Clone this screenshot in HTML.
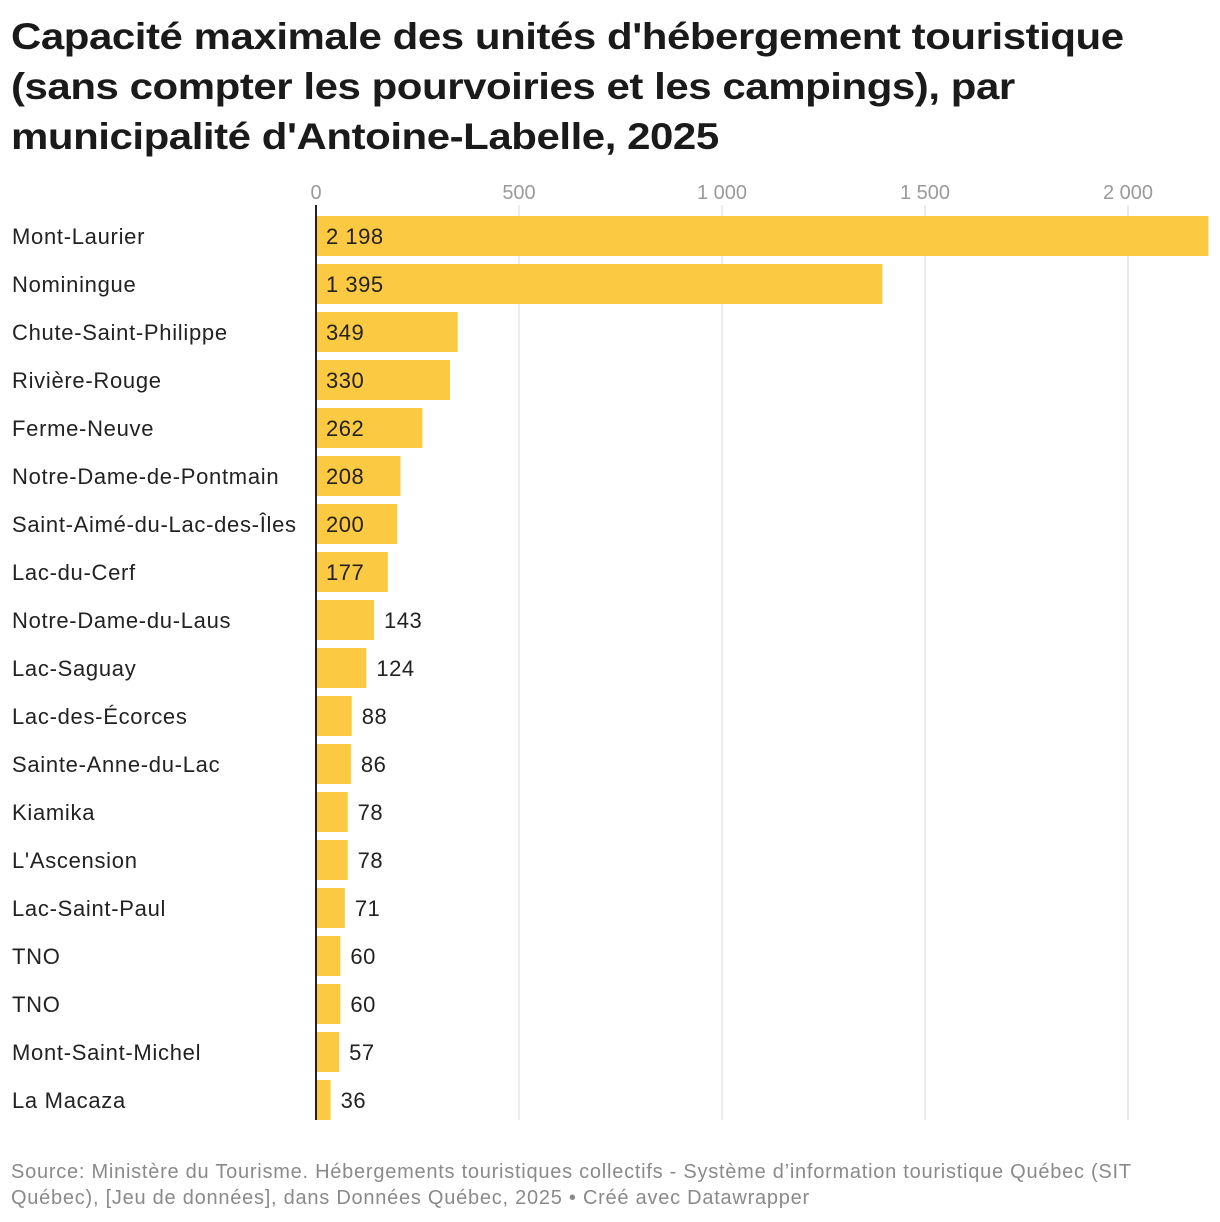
<!DOCTYPE html>
<html><head><meta charset="utf-8"><style>
body{margin:0;background:#fff;width:1220px;height:1222px;overflow:hidden;font-family:"Liberation Sans",sans-serif}
h1{position:absolute;left:11px;top:12px;margin:0;font-size:37px;line-height:50px;font-weight:bold;color:#1a1a1a;letter-spacing:-0.4px;transform:scaleX(1.135);transform-origin:0 0;white-space:nowrap}
#foot{position:absolute;left:11px;top:1159px;font-size:20px;line-height:26px;color:#8a8a8a;letter-spacing:0.75px;white-space:nowrap}
</style></head><body>
<h1>Capacité maximale des unités d'hébergement touristique<br>(sans compter les pourvoiries et les campings), par<br>municipalité d'Antoine-Labelle, 2025</h1>
<svg id="c" width="1220" height="1140" style="position:absolute;left:0;top:0"></svg>
<div id="foot">Source: Ministère du Tourisme. Hébergements touristiques collectifs - Système d’information touristique Québec (SIT<br>Québec), [Jeu de données], dans Données Québec, 2025 • Créé avec Datawrapper</div>
<script>
const categories=["Mont-Laurier","Nominingue","Chute-Saint-Philippe","Rivière-Rouge","Ferme-Neuve","Notre-Dame-de-Pontmain","Saint-Aimé-du-Lac-des-Îles","Lac-du-Cerf","Notre-Dame-du-Laus","Lac-Saguay","Lac-des-Écorces","Sainte-Anne-du-Lac","Kiamika","L'Ascension","Lac-Saint-Paul","TNO","TNO","Mont-Saint-Michel","La Macaza"];
const values=[2198,1395,349,330,262,208,200,177,143,124,88,86,78,78,71,60,60,57,36];
const ticks=[0,500,1000,1500,2000];
const tickLabels=["0","500","1 000","1 500","2 000"];
const NS="http://www.w3.org/2000/svg",svg=document.getElementById('c');
const x=v=>316+v*0.406, y=i=>216+i*48;
function mk(t,a,txt){const e=document.createElementNS(NS,t);for(const k in a)e.setAttribute(k,a[k]);if(txt!=null)e.textContent=txt;svg.appendChild(e);return e;}
const fmt=v=>String(v).replace(/\B(?=(\d{3})+(?!\d))/g,' ');
ticks.forEach((t,i)=>{
 if(t>0){const g=mk('line',{x1:x(t),x2:x(t),y1:205,y2:1120,stroke:'#d9d9d9','stroke-width':1});
 
 }
 const l=mk('text',{x:x(t),y:199,'text-anchor':'middle','font-size':20,fill:'#9a9a9a'},tickLabels[i]);
 
 
});
categories.forEach((c,i)=>{
 const r=mk('rect',{x:316,y:y(i),width:x(values[i])-316,height:40,fill:'#fcc942'});
 
 
 const l=mk('text',{x:12,y:y(i)+28,'font-size':22,fill:'#222','letter-spacing':0.7},c);
 
 
 const inside=values[i]>=160;
 const v=mk('text',{x:inside?326:x(values[i])+10,y:y(i)+28,'font-size':22,fill:'#222','letter-spacing':0.5},fmt(values[i]));
 
 
});
const a=mk('line',{x1:316,x2:316,y1:205,y2:1120,stroke:'#222','stroke-width':2});


</script>
</body></html>
